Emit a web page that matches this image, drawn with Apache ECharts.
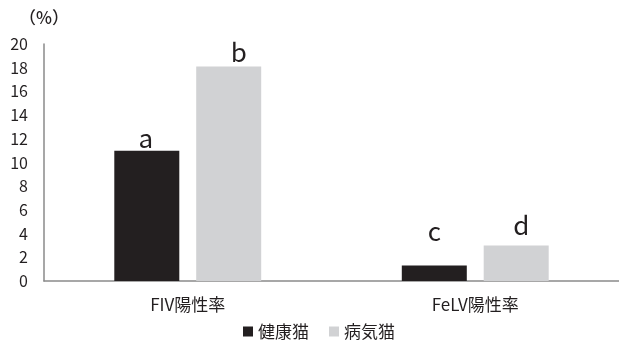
<!DOCTYPE html>
<html>
<head>
<meta charset="utf-8">
<script src="https://cdn.jsdelivr.net/npm/echarts@6/dist/echarts.min.js"></script>
<style>
  html, body { margin: 0; padding: 0; background: #fff; }
  #chart { width: 619px; height: 340px; }
</style>
</head>
<body>
<div id="chart"></div>
<script>
// Positive rates (%) for FIV and FeLV, healthy vs. sick cats
const categories = ['FIV陽性率', 'FeLV陽性率'];
const seriesNames = ['健康猫', '病気猫'];
const healthyValues = [11.0, 1.3];
const sickValues = [18.1, 3.0];
const healthyLetters = ['a', 'c'];
const sickLetters = ['b', 'd'];
const yTicks = [0, 2, 4, 6, 8, 10, 12, 14, 16, 18, 20];

// hand-placed nudges for the significance letters [dx, dy]
const healthyLetterNudge = [[-1, 0], [0, -21]];
const sickLetterNudge = [[10, -1], [5, -7]];

const FONT = '"Noto Sans CJK JP", "Noto Sans", sans-serif';
const TEXT = '#231f20';

function letterData(values, letters, nudges) {
  return values.map((v, i) => ({
    value: v,
    label: {
      show: true,
      position: 'top',
      distance: 0,
      offset: nudges[i],
      fontFamily: FONT,
      fontSize: 26,
      color: TEXT,
      formatter: letters[i]
    }
  }));
}

const chart = echarts.init(document.getElementById('chart'), null, { renderer: 'canvas' });
chart.setOption({
  animation: false,
  backgroundColor: '#fff',
  textStyle: { fontFamily: FONT, color: TEXT },
  grid: { left: 44, top: 44, width: 578, height: 237, containLabel: false },
  legend: {
    data: seriesNames,
    top: 318,
    left: 238,
    icon: 'rect',
    itemWidth: 10,
    itemHeight: 10,
    itemGap: 20,
    textStyle: { fontFamily: FONT, fontSize: 17, color: TEXT }
  },
  xAxis: {
    type: 'category',
    data: categories,
    axisLine: { lineStyle: { color: '#8a8a8a', width: 1.5 } },
    axisTick: { show: false },
    axisLabel: { fontFamily: FONT, fontSize: 17, color: TEXT, margin: 15 }
  },
  yAxis: {
    type: 'value',
    min: yTicks[0],
    max: yTicks[yTicks.length - 1],
    interval: 2,
    name: '（%）',
    nameLocation: 'end',
    nameGap: 18,
    nameTextStyle: { fontFamily: FONT, fontSize: 17, fontWeight: 500, color: TEXT, align: 'center' },
    axisLine: { show: true, lineStyle: { color: '#8a8a8a', width: 1.5 } },
    axisTick: { show: false },
    splitLine: { show: false },
    axisLabel: { fontFamily: FONT, fontSize: 16, color: TEXT, margin: 16 }
  },
  series: [
    {
      name: seriesNames[0],
      type: 'bar',
      data: letterData(healthyValues, healthyLetters, healthyLetterNudge),
      barWidth: 65,
      barGap: '26%',
      itemStyle: { color: '#231f20' }
    },
    {
      name: seriesNames[1],
      type: 'bar',
      data: letterData(sickValues, sickLetters, sickLetterNudge),
      barWidth: 65,
      barGap: '26%',
      itemStyle: { color: '#d1d2d4' }
    }
  ]
});
</script>
</body>
</html>
